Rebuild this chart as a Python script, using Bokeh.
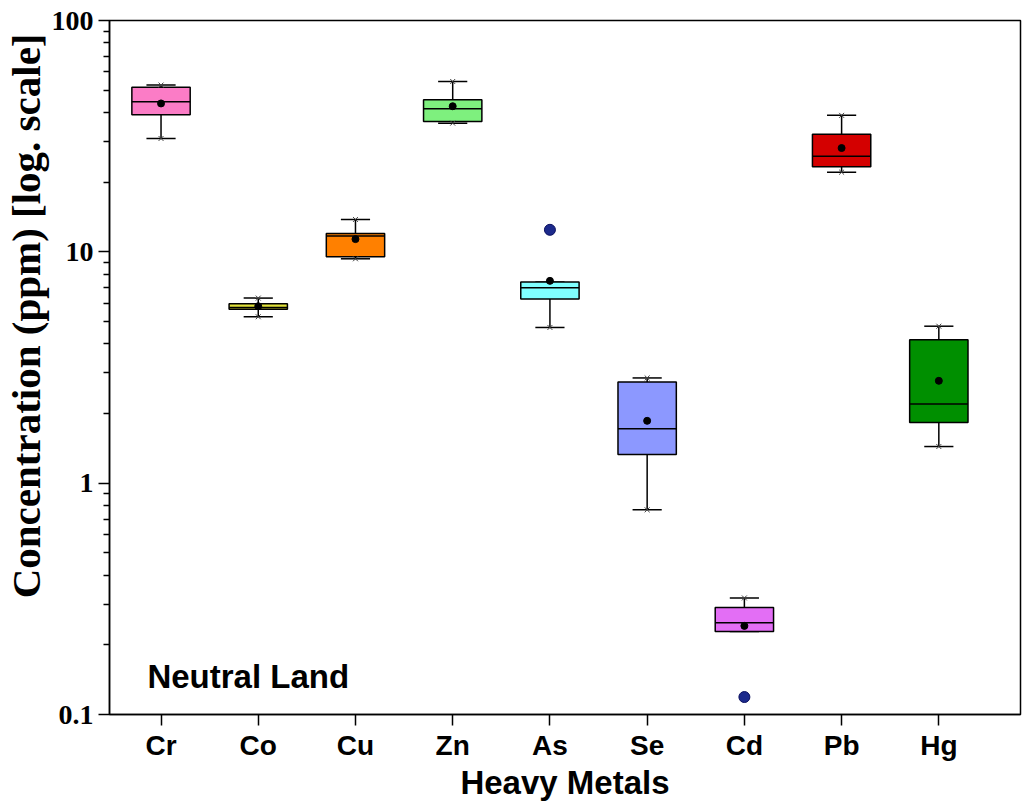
import numpy as np
from bokeh.plotting import figure
from bokeh.models import ColumnDataSource, FixedTicker, Range1d, Label, Title
from bokeh.embed import file_html
from bokeh.resources import INLINE

# ---- data ----
metals = ["Cr", "Co", "Cu", "Zn", "As", "Se", "Cd", "Pb", "Hg"]
q1 = [39.1, 5.64, 9.52, 36.6, 6.26, 1.33, 0.2285, 23.3, 1.83]
median = [44.5, 5.75, 11.7, 41.5, 6.99, 1.72, 0.249, 25.9, 2.20]
q3 = [51.4, 5.96, 12.0, 45.4, 7.40, 2.74, 0.290, 32.2, 4.17]
mean = [43.8, 5.82, 11.35, 42.6, 7.49, 1.86, 0.2416, 28.1, 2.77]
whisker_low = [30.9, 5.24, 9.33, 36.0, 4.71, 0.767, 0.2285, 22.1, 1.44]
whisker_high = [52.6, 6.31, 13.8, 54.5, 7.40, 2.85, 0.319, 38.9, 4.77]
data_min = [30.9, 5.24, 9.33, 36.0, 4.71, 0.767, 0.119, 22.1, 1.44]
data_max = [52.6, 6.31, 13.8, 54.5, 12.45, 2.85, 0.319, 38.9, 4.77]
outlier_metal = ["As", "Cd"]
outlier_value = [12.45, 0.119]
colors = ["#fb7cc6", "#e2e23a", "#ff8000", "#7ef07e", "#80ffff",
          "#8c98ff", "#e36ef5", "#d40000", "#008f00"]
y_ticks = [0.1, 1, 10, 100]
y_tick_labels = ["0.1", "1", "10", "100"]

BOX_W = 0.6
CAP_W = 0.3

xs = np.arange(1, len(metals) + 1)
src = ColumnDataSource(dict(
    x=xs, q1=q1, med=median, q3=q3, mean=mean, lo=whisker_low, hi=whisker_high,
    dmin=data_min, dmax=data_max, color=colors,
    left=xs - BOX_W / 2, right=xs + BOX_W / 2,
    cl=xs - CAP_W / 2, cr=xs + CAP_W / 2,
))
osrc = ColumnDataSource(dict(
    x=[metals.index(m) + 1 for m in outlier_metal], y=outlier_value))

p = figure(width=1023, height=810, x_range=Range1d(0.47, 9.84),
           y_range=Range1d(0.1, 100), y_axis_type="log",
           output_backend="svg", toolbar_location=None,
           min_border_left=0, min_border_right=3,
           min_border_top=20, min_border_bottom=96)
p.background_fill_color = "white"
p.border_fill_color = "white"
p.xgrid.visible = False
p.ygrid.visible = False

# whiskers
p.segment(x0="x", y0="q3", x1="x", y1="hi", source=src, line_color="black", line_width=1.5)
p.segment(x0="x", y0="q1", x1="x", y1="lo", source=src, line_color="black", line_width=1.5)
p.segment(x0="cl", y0="hi", x1="cr", y1="hi", source=src, line_color="black", line_width=1.5)
p.segment(x0="cl", y0="lo", x1="cr", y1="lo", source=src, line_color="black", line_width=1.5)
# boxes
p.vbar(x="x", width=BOX_W, bottom="q1", top="q3", source=src,
       fill_color="color", line_color="black", line_width=1.5)
p.segment(x0="left", y0="med", x1="right", y1="med", source=src,
          line_color="black", line_width=1.5)
# min / max markers
p.scatter(x="x", y="dmin", source=src, marker="x", size=7, line_color="#444444", line_width=1)
p.scatter(x="x", y="dmax", source=src, marker="x", size=7, line_color="#444444", line_width=1)
# mean
p.scatter(x="x", y="mean", source=src, size=7, fill_color="black", line_color="black")
# outliers
p.scatter(x="x", y="y", source=osrc, size=11, fill_color="#1c2a8c", line_color="#0b1060")

# axes
p.xaxis.ticker = FixedTicker(ticks=[int(v) for v in xs])
p.xaxis.major_label_overrides = {int(v): m for v, m in zip(xs, metals)}
minor = [m * 10.0 ** e for e in (-1, 0, 1) for m in range(2, 10)]
p.yaxis.ticker = FixedTicker(ticks=y_ticks, minor_ticks=minor)
p.yaxis.major_label_overrides = {t: s for t, s in zip(y_ticks, y_tick_labels)}

for ax in (p.xaxis[0], p.yaxis[0]):
    ax.axis_line_color = "black"
    ax.axis_line_width = 1.5
    ax.major_tick_line_color = "black"
    ax.major_tick_line_width = 1.5
    ax.major_tick_in = 0
    ax.major_tick_out = 11
    ax.minor_tick_in = 0
p.xaxis.minor_tick_line_color = None
p.yaxis.minor_tick_out = 6
p.yaxis.minor_tick_line_width = 1.5
p.yaxis.minor_tick_line_color = "black"

p.xaxis.major_label_text_font = "Liberation Sans"
p.xaxis.major_label_text_font_style = "bold"
p.xaxis.major_label_text_font_size = "28px"
p.xaxis.major_label_text_color = "black"
p.xaxis.major_label_standoff = 4
p.xaxis.axis_label = "Heavy Metals"
p.xaxis.axis_label_text_font = "Liberation Sans"
p.xaxis.axis_label_text_font_style = "bold"
p.xaxis.axis_label_text_font_size = "33px"
p.xaxis.axis_label_text_color = "black"
p.xaxis.axis_label_standoff = 0

p.yaxis.major_label_text_font = "Liberation Serif"
p.yaxis.major_label_text_font_style = "bold"
p.yaxis.major_label_text_font_size = "28px"
p.yaxis.major_label_text_color = "black"
p.yaxis.major_label_standoff = 5

p.outline_line_color = "black"
p.outline_line_width = 1.5
p.outline_line_alpha = 1.0

# y-axis title (placed off-centre, towards the top, as in the reference)
p.add_layout(Title(text="Concentration (ppm) [log. scale]", align="right", offset=13,
                   text_font="Liberation Serif", text_font_style="bold",
                   text_font_size="41px", text_color="black", standoff=0), "left")

p.add_layout(Label(x=0.86, y=0.1464, text="Neutral Land", text_font="Liberation Sans",
                   text_font_style="bold", text_font_size="33px", text_color="black",
                   text_baseline="alphabetic", text_align="left"))

open("out.html", "w").write(file_html(p, INLINE))
